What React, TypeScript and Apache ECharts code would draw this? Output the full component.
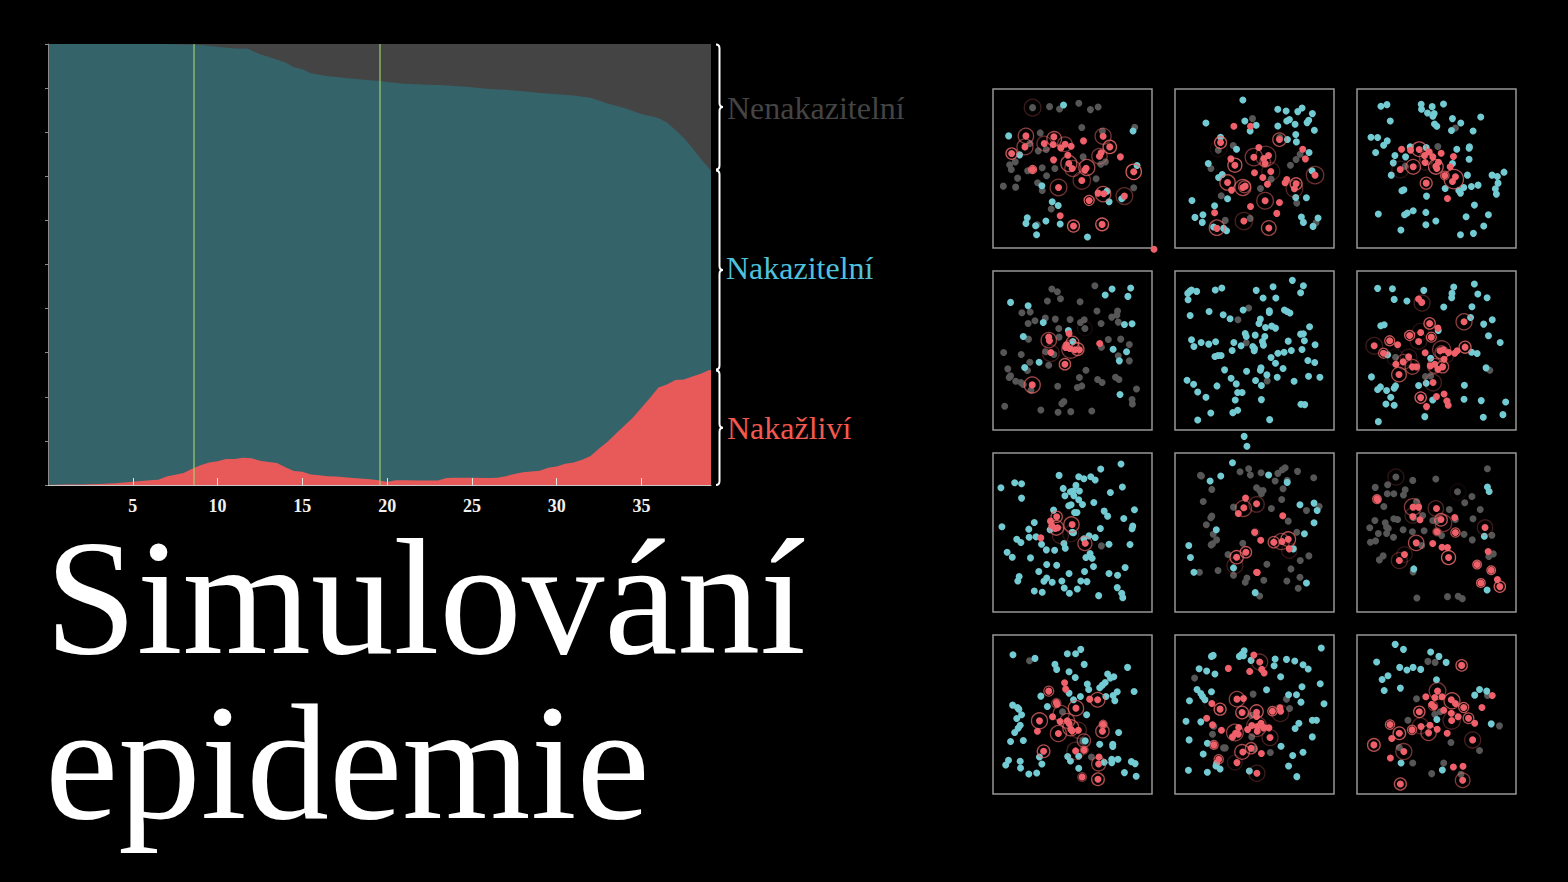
import React, { useEffect, useRef } from "react";
import * as echarts from "echarts";

// Main area chart: x = day, y = percent of population
const redDays = [0,1,2,3,4,5,6,6.5,7,7.5,8,8.5,9,9.5,10,10.5,11,11.5,12,12.5,13,13.5,14,14.5,15,15.5,16,16.5,17,18,19,19.5,20,20.5,21,22,23,23.5,24,25,26,26.5,27,27.5,28,29,29.5,30,30.5,31,31.5,32,32.5,33,33.5,34,34.5,35,35.5,36,36.5,37,37.5,38,38.5,39,39.1];
const redPct = [0,0.1,0.1,0.2,0.4,0.75,1.05,1.2,1.9,2.3,2.7,3.7,4.5,5.1,5.4,5.9,5.9,6.2,6.05,5.5,5.2,5,4,3.2,3,2.4,2.2,2,1.9,1.6,1.3,1.05,0.7,1.1,1.05,1,1,1.6,1.65,1.65,1.6,1.65,2,2.5,2.9,3.25,3.9,4.2,4.8,5.1,5.7,6.6,8.3,9.8,11.7,13.5,15.3,17.5,19.7,22.1,22.8,23.8,23.9,24.6,25.2,26.1,26.1];
const removedDays = [0,7,8.6,9,10,11,11.8,12.5,13,14,14.5,15,15.5,16,16.5,17,18,19,19.6,20,21,22,23,24,25,26,27,28,29,30,31,32,33,34,35,36,36.5,37,37.5,38,38.5,39,39.1];
const removedPct = [0,0,0.15,0.2,0.6,1,1.1,2.3,2.9,4.2,5.3,5.7,6.65,7,7.3,7.5,7.9,8.2,8.4,8.6,9,9.2,9.3,9.5,9.8,10.2,10.4,10.7,11.1,11.4,11.7,12.2,13.5,14.5,15.9,16.8,17.8,19.5,21.3,23.6,26,28.3,28.7];
const markerDays = [8.6, 19.55];
const seriesNames = ["Nenakazitelní", "Nakazitelní", "Nakažliví"];
const titleLines = ["Simulování", "epidemie"];

// Panels: points are [x, y]; rings are [x, y, radius, opacity]
const teal1 = [[236,74],[71,167],[445,152],[104,224],[457,256],[171,317],[367,333],[373,365],[411,356],[202,365],[220,376],[127,413],[123,430],[183,423],[152,437],[226,432],[155,464],[308,471]];
const gray1 = [[143,82],[194,79],[224,86],[282,69],[317,88],[340,80],[450,141],[291,142],[166,158],[353,153],[135,190],[160,212],[184,208],[295,230],[91,245],[74,254],[79,268],[128,272],[172,263],[210,265],[185,287],[98,294],[55,318],[92,321],[158,308],[172,331],[334,296],[447,323],[362,245],[348,252],[199,387],[157,434]];
const red1 = [[123,167],[120,200],[80,220],[143,268],[178,190],[207,170],[205,193],[228,203],[241,192],[259,198],[249,225],[355,168],[375,200],[296,182],[344,228],[349,218],[407,230],[206,239],[252,250],[262,265],[304,264],[300,270],[447,275],[291,301],[221,322],[340,339],[357,341],[419,348],[313,361],[226,407],[266,438],[352,433],[508,508]];
const rings1 = [[143,82,25,.25],[123,167,23,.6],[120,200,24,.55],[80,220,17,.8],[143,268,12,.9],[178,190,22,.45],[208,176,22,.7],[240,192,22,.5],[252,250,24,.7],[264,265,24,.5],[306,262,24,.7],[344,228,23,.5],[355,168,24,.5],[375,200,20,.85],[447,275,23,.9],[291,301,26,.4],[221,322,25,.5],[355,342,23,.7],[419,348,25,.4],[313,361,15,.85],[266,438,18,.85],[352,433,19,.85]];

const teal2 = [[773,59],[878,87],[903,92],[938,94],[951,83],[982,100],[662,128],[779,122],[795,152],[813,135],[878,137],[905,122],[913,118],[930,132],[971,120],[966,127],[988,150],[932,163],[907,178],[934,185],[706,171],[754,207],[972,217],[669,250],[700,292],[711,283],[981,272],[932,352],[964,353],[727,356],[688,377],[620,361],[653,404],[629,412],[651,427],[949,411],[955,427],[999,414],[984,439],[685,441],[724,452],[715,445]];
const gray2 = [[802,115],[884,172],[744,196],[699,210],[677,265],[945,222],[933,238],[916,255],[858,297],[826,325],[708,347],[935,369],[720,421],[795,415],[993,428]];
const red2 = [[746,138],[796,138],[706,187],[883,178],[821,202],[953,207],[737,236],[806,231],[836,235],[850,226],[840,250],[961,236],[749,255],[808,278],[857,274],[833,292],[847,312],[990,285],[900,308],[905,298],[933,311],[928,326],[727,307],[739,330],[773,322],[780,318],[840,362],[883,367],[796,379],[875,400],[688,398],[776,423],[695,445],[851,444]];
const rings2 = [[706,187,18,.8],[883,178,20,.7],[806,231,26,.5],[842,228,30,.45],[840,245,16,.5],[749,255,21,.8],[857,274,27,.25],[727,307,23,.7],[773,322,24,.7],[778,320,18,.6],[990,285,26,.45],[933,311,18,.8],[928,326,25,.35],[840,362,25,.5],[776,423,26,.3],[695,443,23,.7],[851,444,22,.7],[700,205,25,.1]];

const teal3 = [[107,78],[125,73],[228,72],[261,79],[295,71],[229,87],[247,98],[267,100],[263,108],[135,122],[322,115],[347,128],[407,110],[268,131],[275,138],[319,151],[384,152],[77,171],[97,172],[126,182],[115,195],[91,217],[195,200],[149,226],[181,230],[144,248],[138,285],[335,207],[373,200],[372,204],[372,237],[243,202],[322,250],[367,285],[441,285],[457,289],[477,276],[459,309],[451,326],[454,342],[356,322],[379,319],[399,315],[300,325],[341,331],[346,339],[170,332],[176,329],[244,348],[388,375],[99,402],[178,404],[186,399],[204,392],[242,397],[363,410],[430,404],[242,434],[272,423],[167,450],[416,438],[346,464],[385,460]];
const gray3 = [[331,143],[278,199],[180,258]];
const red3 = [[169,207],[196,210],[222,208],[238,226],[263,230],[288,219],[325,229],[240,247],[204,260],[165,268],[272,258],[280,246],[275,265],[315,260],[299,286],[331,290],[322,304],[243,309],[307,355],[252,215]];
const rings3 = [[222,207,22,.8],[204,260,22,.7],[165,268,25,.2],[272,260,22,.8],[243,309,18,.75],[326,297,29,.75],[299,286,13,.7],[245,232,22,.4],[240,250,20,.2]];

const teal4 = [[75,120],[126,130],[350,98],[370,80],[424,77],[416,102],[170,180],[243,204],[406,186],[428,184],[112,222],[256,237],[158,299],[373,260],[412,268],[391,295],[116,315],[393,396]];
const gray4 = [[195,80],[211,88],[220,109],[182,116],[277,118],[320,70],[108,151],[132,149],[176,167],[205,170],[248,171],[146,175],[126,183],[278,180],[289,172],[326,146],[338,183],[386,146],[384,158],[369,164],[388,179],[291,198],[215,198],[216,224],[127,230],[359,231],[395,230],[420,246],[339,254],[55,270],[106,276],[177,268],[201,276],[388,280],[420,295],[131,299],[186,308],[294,323],[67,319],[124,324],[75,340],[71,345],[90,356],[105,360],[112,366],[134,383],[275,345],[212,371],[269,375],[282,370],[328,351],[341,360],[380,344],[390,351],[441,379],[428,411],[429,424],[58,431],[163,442],[213,449],[224,423],[230,417],[250,447],[311,445]];
const red4 = [[186,224],[188,235],[192,270],[233,305],[235,255],[247,258],[262,262],[275,262],[238,247],[334,243],[138,367],[245,213]];
const rings4 = [[186,233,23,.6],[255,240,19,.75],[250,260,27,.55],[270,260,19,.75],[192,272,25,.25],[233,305,17,.8],[138,367,24,.7],[291,198,22,.1]];

const teal5 = [[892,54],[924,70],[588,93],[594,87],[599,83],[614,87],[668,83],[687,77],[787,84],[836,73],[916,91],[589,112],[807,107],[844,107],[650,147],[595,159],[691,157],[711,169],[749,143],[825,145],[825,150],[869,143],[877,147],[885,152],[799,170],[795,183],[814,195],[832,191],[843,197],[942,193],[755,213],[758,222],[784,218],[812,222],[916,215],[924,214],[927,235],[958,247],[599,232],[606,252],[627,240],[649,245],[669,238],[722,240],[743,250],[777,252],[782,258],[805,237],[808,248],[880,236],[920,261],[717,264],[781,265],[850,272],[868,269],[889,264],[667,282],[676,279],[685,279],[830,285],[843,302],[937,294],[957,300],[695,322],[759,326],[801,316],[799,323],[865,318],[818,337],[848,344],[939,341],[972,344],[586,353],[605,365],[714,347],[729,364],[785,354],[897,356],[802,369],[673,370],[617,388],[733,390],[746,390],[641,404],[726,412],[802,411],[917,425],[928,426],[655,451],[733,443],[719,450],[617,472],[826,471],[752,521]];
const gray5 = [[765,137],[734,172],[758,241],[819,355]];
const red5: number[][] = [];
const rings5: number[][] = [];

const teal6 = [[1139,78],[1182,79],[1187,111],[1224,116],[1273,84],[1360,74],[1355,93],[1354,106],[1420,65],[1430,95],[1457,106],[1331,134],[1413,133],[1409,165],[1447,185],[1472,172],[1148,190],[1158,187],[1461,220],[1495,240],[1315,204],[1412,269],[1428,273],[1293,287],[1454,316],[1121,343],[1147,373],[1139,381],[1165,384],[1187,377],[1191,370],[1177,404],[1163,424],[1187,428],[1258,369],[1280,362],[1391,368],[1390,410],[1440,414],[1511,418],[1299,412],[1503,456],[1446,464],[1276,462],[1141,477],[1168,277]];
const gray6 = [[1191,284],[1278,342],[1293,340],[1465,323],[1341,415]];
const red6 = [[1258,110],[1267,120],[1390,178],[1290,183],[1314,197],[1232,219],[1264,210],[1295,224],[1258,237],[1174,235],[1197,247],[1129,250],[1156,272],[1277,271],[1229,283],[1213,298],[1192,305],[1240,313],[1252,313],[1201,336],[1292,310],[1305,305],[1328,313],[1332,290],[1393,254],[1320,265],[1330,262],[1345,270],[1363,272],[1370,265],[1300,360],[1264,405],[1310,402],[1332,394],[1344,428],[1281,432],[1340,415],[1314,320]];
const rings6 = [[1268,122,24,.3],[1390,178,24,.6],[1290,183,17,.8],[1232,219,15,.85],[1295,224,15,.8],[1258,235,25,.2],[1264,208,25,.15],[1174,235,15,.8],[1129,250,25,.25],[1156,272,15,.75],[1190,285,25,.15],[1229,285,25,.2],[1215,298,22,.45],[1240,313,22,.6],[1201,336,22,.7],[1305,310,22,.55],[1328,313,18,.7],[1325,262,27,.5],[1325,270,20,.5],[1393,254,18,.8],[1300,360,25,.3],[1264,405,17,.85],[1340,280,20,.2]];

const teal7 = [[396,101],[337,116],[216,135],[273,139],[288,145],[308,139],[321,149],[47,172],[87,157],[107,160],[265,165],[228,174],[400,170],[249,184],[257,182],[275,182],[365,186],[233,196],[259,196],[107,203],[273,208],[244,226],[251,223],[284,222],[317,216],[261,246],[268,246],[347,242],[357,257],[435,238],[404,264],[200,239],[144,276],[50,289],[128,296],[430,287],[428,295],[336,294],[129,320],[149,319],[93,326],[105,336],[165,341],[230,339],[234,353],[179,358],[203,359],[361,341],[422,342],[65,365],[80,380],[133,382],[294,381],[306,369],[312,383],[316,408],[180,402],[209,404],[408,411],[157,423],[245,429],[290,423],[361,429],[386,434],[100,438],[96,451],[180,442],[172,452],[196,455],[224,451],[279,451],[297,453],[231,472],[144,481],[167,485],[246,488],[269,475],[331,495],[385,471],[398,488],[401,501],[321,321],[288,325],[303,316],[258,307],[190,298],[254,305]];
const gray7 = [[339,346]];
const red7 = [[209,259],[191,272],[254,282],[212,292],[163,322],[292,338],[195,285],[205,294]];
const rings7 = [[209,259,17,.7],[208,292,22,.7],[252,282,23,.7],[291,339,21,.65],[220,315,24,.25],[250,310,24,.2]];

const teal8 = [[760,48],[718,97],[653,152],[684,137],[823,134],[877,156],[914,223],[955,218],[964,240],[955,277],[671,298],[927,310],[591,345],[596,381],[606,425],[895,355],[721,412],[933,457],[784,486]];
const gray8 = [[625,135],[628,137],[740,124],[765,115],[770,134],[801,127],[850,129],[863,118],[871,112],[907,123],[954,142],[842,152],[877,150],[658,177],[788,172],[797,180],[807,180],[802,190],[865,175],[633,213],[861,207],[721,230],[831,234],[933,240],[970,228],[658,257],[655,262],[642,283],[880,272],[662,311],[672,328],[660,340],[656,343],[748,338],[905,305],[915,390],[940,376],[818,401],[888,415],[676,420],[622,425],[721,434],[760,442],[755,455],[809,449],[876,451],[914,440],[909,473],[797,496],[782,305],[705,372]];
const red8 = [[756,203],[788,220],[751,232],[735,249],[864,256],[783,305],[800,329],[838,335],[862,333],[880,326],[883,355],[730,380],[757,365],[788,425],[790,426]];
const rings8 = [[750,234,24,.55],[788,222,23,.35],[838,335,17,.7],[860,333,24,.5],[880,326,22,.75],[883,360,23,.2],[730,380,20,.8],[757,365,17,.8],[725,405,24,.25],[785,305,12,.2]];

const teal9 = [[1458,170],[1463,183],[1449,317],[1244,415],[1457,478]];
const gray9 = [[1458,115],[1192,140],[1241,150],[1308,146],[1132,171],[1168,163],[1167,190],[1186,190],[1219,178],[1214,194],[1371,184],[1413,198],[1252,213],[1157,228],[1392,217],[1437,237],[1131,270],[1161,277],[1186,265],[1197,267],[1243,262],[1270,255],[1347,237],[1416,265],[1116,292],[1141,309],[1165,290],[1170,294],[1165,309],[1213,298],[1185,320],[1118,335],[1133,331],[1240,304],[1274,301],[1299,270],[1313,270],[1325,315],[1390,311],[1414,328],[1471,314],[1267,345],[1155,376],[1144,388],[1462,378],[1475,370],[1253,502],[1342,498],[1373,497],[1385,504],[1242,424],[1365,267]];
const red9 = [[1137,205],[1139,208],[1242,230],[1258,230],[1241,258],[1262,268],[1310,234],[1323,267],[1363,261],[1311,304],[1365,306],[1251,337],[1299,339],[1326,350],[1342,351],[1345,381],[1451,291],[1217,372],[1202,390],[1460,363],[1428,402],[1469,419],[1487,447],[1439,457],[1494,468]];
const rings9 = [[1192,140,24,.2],[1137,206,13,.8],[1241,230,25,.55],[1241,255,23,.25],[1308,234,23,.35],[1323,268,19,.75],[1330,278,25,.45],[1311,304,12,.5],[1365,306,14,.8],[1251,337,23,.7],[1345,381,21,.85],[1451,291,23,.25],[1217,372,23,.2],[1202,390,24,.3],[1428,402,13,.85],[1469,419,13,.85],[1439,457,13,.85],[1494,468,17,.85],[1372,185,24,.08]];

const teal10 = [[82,87],[146,98],[240,84],[264,84],[279,71],[204,116],[209,131],[289,116],[245,138],[263,155],[415,125],[357,145],[375,153],[365,157],[350,170],[342,178],[334,186],[298,175],[302,191],[163,211],[245,202],[278,212],[258,222],[352,212],[373,209],[378,225],[385,198],[434,197],[182,242],[81,238],[95,245],[99,250],[107,267],[93,278],[296,267],[103,298],[97,307],[87,320],[75,347],[112,344],[389,320],[334,355],[372,355],[372,362],[159,393],[241,392],[249,405],[273,391],[166,414],[69,403],[61,417],[103,406],[104,426],[128,444],[151,441],[369,400],[369,410],[387,400],[347,409],[426,407],[437,413],[273,427],[406,440],[440,451],[292,345]];
const gray10 = [[130,105],[226,258],[285,345],[310,393]];
const red10 = [[232,171],[235,190],[186,196],[208,230],[210,235],[197,273],[265,247],[328,222],[305,220],[219,287],[240,285],[245,293],[250,310],[254,315],[159,285],[153,316],[214,323],[272,313],[171,376],[264,375],[289,372],[344,295],[342,316],[332,393],[331,414],[283,453],[329,460]];
const rings10 = [[186,196,15,.7],[265,247,23,.7],[328,222,22,.7],[159,285,24,.7],[222,263,24,.5],[240,285,22,.6],[214,323,24,.6],[250,306,24,.7],[272,313,24,.3],[288,344,20,.6],[344,295,12,.7],[342,316,20,.7],[171,376,19,.75],[264,375,26,.3],[289,372,12,.5],[331,414,21,.6],[283,453,13,.5],[329,460,19,.75],[208,232,14,.5]];

const teal11 = [[976,67],[657,92],[662,89],[738,92],[745,86],[752,75],[750,90],[772,104],[842,100],[875,101],[899,106],[923,117],[938,130],[839,120],[621,129],[643,136],[667,145],[858,153],[973,174],[920,183],[615,191],[626,203],[631,212],[657,198],[638,222],[593,225],[817,192],[881,207],[904,207],[917,229],[984,234],[583,286],[626,288],[911,292],[900,308],[950,283],[962,283],[950,333],[592,342],[645,352],[633,384],[859,361],[893,389],[923,379],[590,433],[645,439],[672,412],[670,420],[682,429],[881,420],[905,452],[767,435]];
const gray11 = [[608,157],[778,205],[875,220],[884,248],[773,268],[664,301],[660,325],[774,333],[692,366],[697,366],[828,380],[782,369]];
const red11 = [[780,88],[797,109],[706,128],[768,137],[803,131],[810,142],[731,220],[750,218],[658,233],[682,250],[746,260],[788,259],[834,256],[856,246],[858,256],[643,277],[788,272],[686,313],[660,297],[718,333],[727,322],[736,305],[762,311],[774,299],[790,302],[801,292],[808,306],[790,316],[824,306],[827,335],[664,357],[748,378],[772,367],[802,383],[678,400],[731,410],[789,442],[735,325],[810,305]];
const rings11 = [[797,109,24,.4],[731,220,23,.6],[682,250,18,.8],[746,260,19,.8],[788,257,20,.8],[834,256,14,.8],[857,262,25,.25],[725,320,25,.6],[788,302,30,.4],[827,335,24,.3],[664,357,13,.75],[746,378,22,.7],[772,367,17,.7],[678,400,14,.75],[725,410,22,.2],[789,442,24,.25],[655,233,20,.1]];

const teal12 = [[1190,56],[1214,71],[1293,79],[1317,92],[1338,110],[1136,109],[1203,125],[1224,133],[1242,125],[1264,131],[1310,162],[1169,150],[1152,161],[1158,194],[1205,187],[1421,208],[1435,191],[1456,196],[1469,294],[1311,281],[1207,411],[1327,432]];
const gray12 = [[1285,107],[1306,110],[1252,219],[1227,283],[1305,265],[1321,258],[1352,350],[1435,374],[1202,365],[1241,411],[1331,411],[1296,443],[1381,445],[1458,209],[1493,300]];
const red12 = [[1383,119],[1472,209],[1442,245],[1313,196],[1279,213],[1305,215],[1326,213],[1296,236],[1303,243],[1353,222],[1365,233],[1389,245],[1331,253],[1353,262],[1373,273],[1403,277],[1421,292],[1354,284],[1260,258],[1175,296],[1202,322],[1239,312],[1291,298],[1265,302],[1287,321],[1341,322],[1312,310],[1180,338],[1128,357],[1415,342],[1215,377],[1176,396],[1359,423],[1387,421],[1205,474],[1386,463]];
const rings12 = [[1383,119,17,.8],[1313,196,25,.5],[1355,225,24,.7],[1389,245,15,.8],[1403,277,16,.75],[1354,284,26,.3],[1260,258,17,.8],[1263,300,24,.3],[1175,296,14,.8],[1202,322,19,.8],[1239,312,14,.75],[1287,321,23,.6],[1128,357,19,.75],[1415,342,24,.3],[1215,377,24,.5],[1205,474,18,.75],[1386,463,22,.55],[1300,240,14,.5]];

const tealSets = [teal1,teal2,teal3,teal4,teal5,teal6,teal7,teal8,teal9,teal10,teal11,teal12];
const graySets = [gray1,gray2,gray3,gray4,gray5,gray6,gray7,gray8,gray9,gray10,gray11,gray12];
const redSets = [red1,red2,red3,red4,red5,red6,red7,red8,red9,red10,red11,red12];
const ringSets = [rings1,rings2,rings3,rings4,rings5,rings6,rings7,rings8,rings9,rings10,rings11,rings12];

// Each panel's axis extents, in the units its points were read in
const panelX = [[24,502],[569,1047],[35,513],[24,486],[551,1013],[1079,1541],[24,486],[551,1013],[1079,1541],[24,486],[551,1013],[1079,1541]];
const panelY = [[26,504],[26,504],[26,504],[26,502],[26,502],[26,502],[68,544],[68,544],[68,544],[28,504],[28,504],[28,504]];

const COL = { teal: "#72cbd2", gray: "#565656", red: "#f0606b", ring: "#ee6a6a", areaTeal: "#35636a", areaGray: "#444444", areaRed: "#e85a5a" };
const SERIF = '"Liberation Serif", serif';

function bracePath(top: number, bottom: number) {
  const x0 = 716, x1 = 719.5, tip = 723, mid = (top + bottom) / 2;
  return `M${x0} ${top} C${x1 - 1} ${top} ${x1} ${top + 1} ${x1} ${top + 4} L${x1} ${mid - 4} C${x1} ${mid - 1} ${x1 + 1} ${mid} ${tip} ${mid} C${x1 + 1} ${mid} ${x1} ${mid + 1} ${x1} ${mid + 4} L${x1} ${bottom - 4} C${x1} ${bottom - 1} ${x1 - 1} ${bottom} ${x0} ${bottom}`;
}
const braceSpans = [[44.5,169.5],[170.5,369.5],[370.5,485]];
braceSpans.forEach((s, i) => {
  echarts.graphic.registerShape("brace" + i, echarts.graphic.extendPath(bracePath(s[0], s[1]), {}));
});

function buildOption() {
  const grid: any[] = [{ left: 48, top: 44, width: 663, height: 441, show: false }];
  const xAxis: any[] = [{
    type: "value", gridIndex: 0, min: 0, max: 39.1, interval: 5, z: 5,
    splitLine: { show: false },
    axisLine: { show: true, lineStyle: { color: "#c8c8c8", width: 1 } },
    axisTick: { show: true, inside: true, length: 7, lineStyle: { color: "#e4e4e4", width: 1 } },
    axisLabel: { show: true, showMinLabel: false, showMaxLabel: false, color: "#f0f0f0", fontFamily: SERIF, fontSize: 18, fontWeight: "bold", margin: 12 },
  }];
  const yAxis: any[] = [{
    type: "value", gridIndex: 0, min: 0, max: 100, interval: 10, z: 5,
    splitLine: { show: false },
    axisLine: { show: true, onZero: false, lineStyle: { color: "#8a8a8a", width: 1 } },
    axisTick: { show: true, length: 3, lineStyle: { color: "#8a8a8a", width: 1 } },
    axisLabel: { show: false },
  }];
  const areaBase = { type: "line", xAxisIndex: 0, yAxisIndex: 0, showSymbol: false, symbol: "none", silent: true, lineStyle: { width: 0 } };
  const series: any[] = [
    { ...areaBase, name: seriesNames[0], data: [[0, 100], [39.1, 100]], areaStyle: { color: COL.areaGray, opacity: 1 }, z: 2 },
    { ...areaBase, name: seriesNames[1], data: removedDays.map((d, i) => [d, 100 - removedPct[i]]), areaStyle: { color: COL.areaTeal, opacity: 1 }, z: 3,
      markLine: { silent: true, symbol: "none", label: { show: false }, lineStyle: { color: "rgba(160,215,110,0.75)", width: 1.5, type: "solid" }, data: markerDays.map((d) => ({ xAxis: d })), z: 6 } },
    { ...areaBase, name: seriesNames[2], data: redDays.map((d, i) => [d, redPct[i]]), areaStyle: { color: COL.areaRed, opacity: 1 }, z: 4 },
  ];

  const lefts = [993, 1175, 1357];
  const tops = [89, 271, 453, 635];
  tealSets.forEach((_, i) => {
    const g = i + 1;
    grid.push({ left: lefts[i % 3], top: tops[Math.floor(i / 3)], width: 159, height: 159, show: true, backgroundColor: "transparent", borderColor: "#979797", borderWidth: 1.5 });
    xAxis.push({ type: "value", gridIndex: g, show: false, min: panelX[i][0], max: panelX[i][1], splitLine: { show: false } });
    yAxis.push({ type: "value", gridIndex: g, show: false, inverse: true, min: panelY[i][0], max: panelY[i][1], splitLine: { show: false } });
    const dots = (data: number[][], color: string, z: number) => ({
      type: "scatter", xAxisIndex: g, yAxisIndex: g, clip: false, silent: true, data, symbol: "circle", symbolSize: 7,
      itemStyle: { color, opacity: 1 }, z,
    });
    series.push(dots(graySets[i], COL.gray, 2), dots(tealSets[i], COL.teal, 3), dots(redSets[i], COL.red, 4));
    series.push({
      type: "scatter", xAxisIndex: g, yAxisIndex: g, clip: false, silent: true, symbol: "circle", z: 5,
      symbolSize: (v: number[]) => (v[2] * 2) / 3,
      data: ringSets[i].map((r) => ({ value: r, itemStyle: { opacity: r[3] } })),
      itemStyle: { color: "transparent", borderColor: COL.ring, borderWidth: 1.3 },
    });
  });

  const label = (text: string, x: number, y: number, fill: string) => ({
    type: "text", x, y, silent: true, z: 20,
    style: { text, fill, font: `32px ${SERIF}`, align: "left", verticalAlign: "middle" },
  });
  const title = (text: string, y: number) => ({
    type: "text", x: 45, y, silent: true, z: 20,
    style: { text, fill: "#ffffff", font: `165px ${SERIF}`, lineHeight: 115, align: "left", verticalAlign: "middle" },
  });
  const graphic: any[] = [
    ...braceSpans.map((_, i) => ({ type: "brace" + i, silent: true, z: 20, style: { stroke: "#ffffff", lineWidth: 2, fill: "none" } })),
    label(seriesNames[0], 727, 108, "#444444"),
    label(seriesNames[1], 726, 268, "#4fc1dc"),
    label(seriesNames[2], 727, 428, "#f2594f"),
    title(titleLines[0], 597),
    title(titleLines[1], 762),
  ];
  return { animation: false, backgroundColor: "#000000", grid, xAxis, yAxis, series, graphic };
}

export default function App() {
  const ref = useRef<HTMLDivElement>(null);
  useEffect(() => {
    document.body.style.margin = "0";
    document.body.style.background = "#000";
    const chart = echarts.init(ref.current!, null, { renderer: "svg" });
    chart.setOption(buildOption() as any);
    return () => chart.dispose();
  }, []);
  return <div ref={ref} style={{ width: 1568, height: 882, position: "absolute", left: 0, top: 0 }} />;
}
